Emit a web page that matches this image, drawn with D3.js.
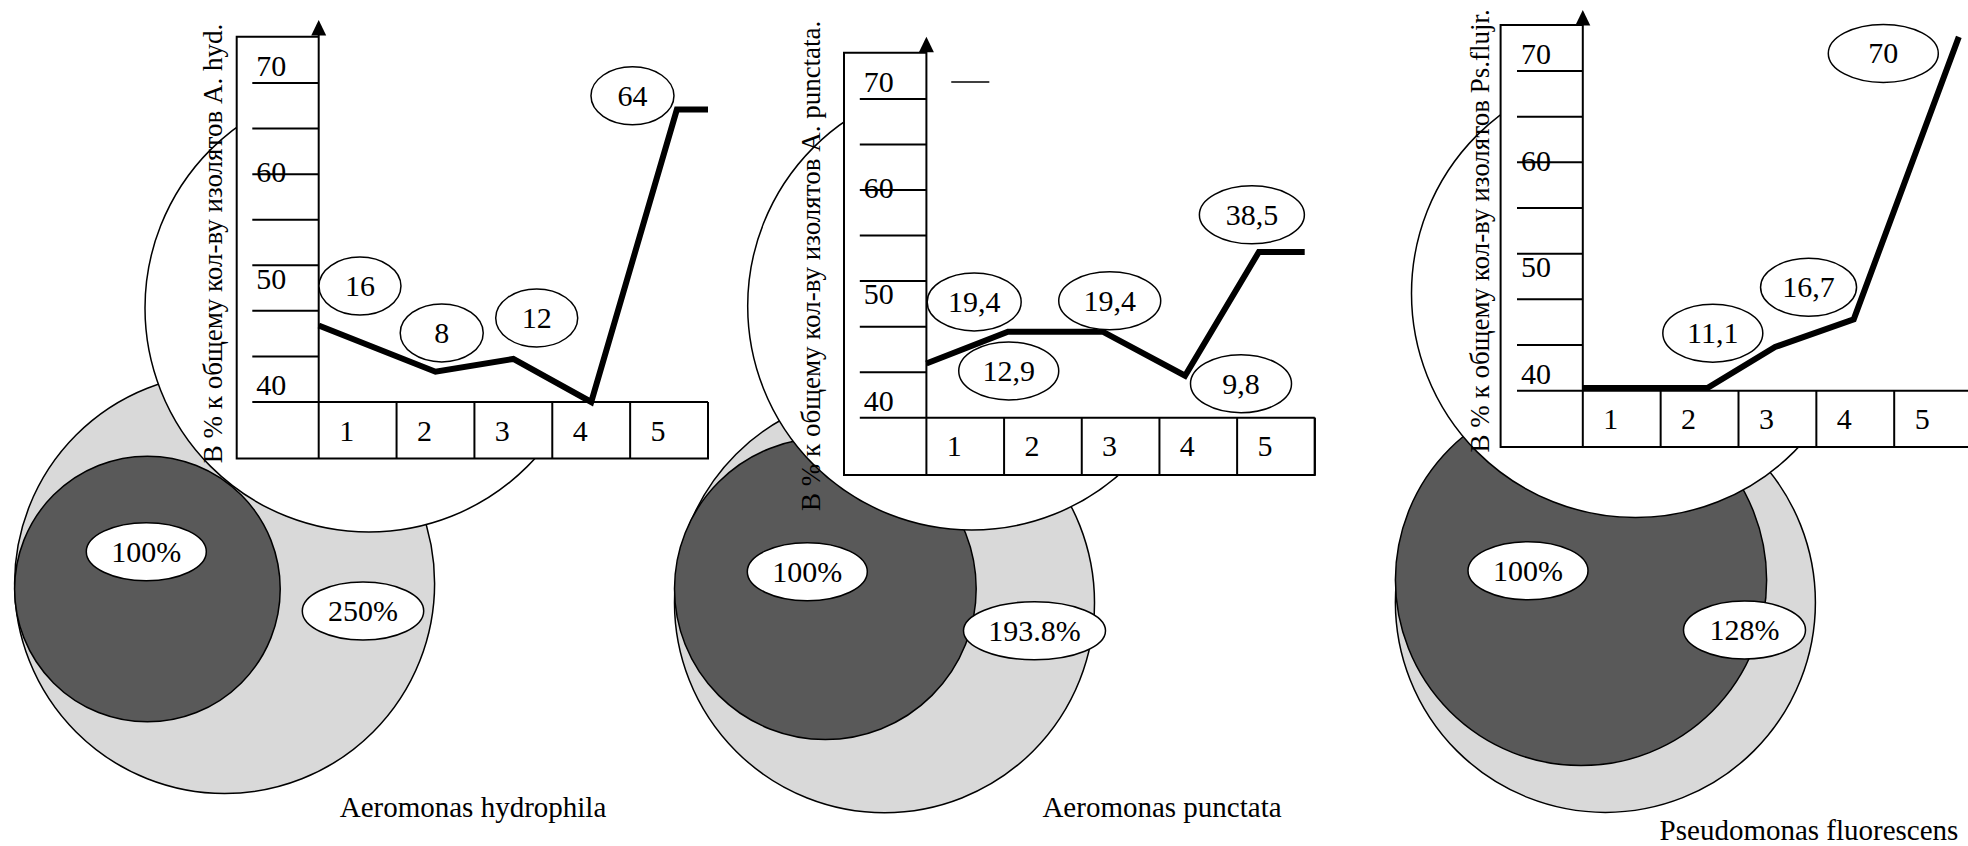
<!DOCTYPE html>
<html><head><meta charset="utf-8">
<script src="https://cdn.jsdelivr.net/npm/d3@7"></script>
<style>
body{margin:0;background:#fff}
svg{display:block}
text{font-family:"Liberation Serif","Times New Roman",serif;fill:#000}
</style>
</head><body>
<svg id="c" width="1968" height="846"></svg>
<script>
// ================= DATA =================
const categories = [1, 2, 3, 4, 5];
const tickLabels = [40, 50, 60, 70];
const titles = ["Aeromonas hydrophila", "Aeromonas punctata", "Pseudomonas fluorescens"];
const axisTitles = [
  "В % к общему кол-ву изолятов А. hyd.",
  "В % к общему кол-ву изолятов А. punctata.",
  "В % к общему кол-ву изолятов Ps.flujr."
];
// line vertices: x in category units, y in axis units
const hydLineX = [0.5, 2, 3, 4, 5.1, 5.5];
const hydLineY = [47.2, 42.85, 44.05, 40, 67.5, 67.5];
const punLineX = [0.5, 1.55, 2.77, 3.83, 4.78, 5.37];
const punLineY = [45.1, 48.1, 48.1, 43.95, 55.6, 55.6];
const fluLineX = [0.5, 2.1, 2.97, 3.98, 5.33];
const fluLineY = [40.25, 40.25, 44.1, 46.7, 73.2];
// value annotations (text, anchor in category / axis units)
const hydLabels = ["16", "8", "12", "64"];
const hydLabelX = [1.03, 2.08, 3.30, 4.53];
const hydLabelY = [50.9, 46.5, 47.9, 68.8];
const punLabels = ["19,4", "12,9", "19,4", "38,5", "9,8"];
const punLabelX = [1.115, 1.56, 2.86, 4.69, 4.55];
const punLabelY = [50.9, 44.4, 51.0, 59.1, 43.2];
const fluLabels = ["11,1", "16,7", "70"];
const fluLabelX = [2.17, 3.40, 4.36];
const fluLabelY = [45.4, 49.7, 71.65];
// isolate counts relative to control (%): [control, experiment]
const hydPct = [100, 250];
const punPct = [100, 193.8];
const fluPct = [100, 128];

// ================= LAYOUT =================
const layouts = [
  { axisX: 318.7, colW: 77.86, baseY: 402, topY: 83, boxLeft: 236.7, boxTop: 36.7, boxBottom: 458.5,
    tickX0: 252.3, arrowTip: 20, yTitle: [222, 243.5], white: [369, 308, 224],
    outer: [224.6, 583.5], R: 210, innerCy: 589,
    pctPos: [[146.3, 551.7], [363, 611]], pctRx: [60, 60.7],
    labelRx: [41, 41.5, 41, 41.5], title: [473, 817] },
  { axisX: 926.4, colW: 77.68, baseY: 417.7, topY: 99, boxLeft: 844, boxTop: 52.7, boxBottom: 475,
    tickX0: 859.8, arrowTip: 36.7, yTitle: [820, 265.8], white: [971.7, 306, 224],
    outer: [884.5, 602.7], R: 210, innerCy: 588.7,
    pctPos: [[807.3, 571.7], [1034.5, 630.7]], pctRx: [60, 71],
    labelRx: [47, 50, 51, 52.5, 50.5], title: [1162, 816.7],
    stray: [0.82, 1.31, 71.6] },
  { axisX: 1582.8, colW: 77.85, baseY: 390.7, topY: 71, boxLeft: 1500.6, boxTop: 25, boxBottom: 447,
    tickX0: 1517, arrowTip: 10, yTitle: [1489, 230.9], white: [1635.5, 293.5, 224],
    outer: [1605.4, 602.4], R: 210, innerCy: 580,
    pctPos: [[1528, 570.7], [1744.5, 630]], pctRx: [60, 61],
    labelRx: [50, 48, 55], title: [1809, 839.5] }
];

const panels = [
  { title: titles[0], axisTitle: axisTitles[0], lx: hydLineX, ly: hydLineY, labels: hydLabels, labX: hydLabelX, labY: hydLabelY, pct: hydPct, L: layouts[0] },
  { title: titles[1], axisTitle: axisTitles[1], lx: punLineX, ly: punLineY, labels: punLabels, labX: punLabelX, labY: punLabelY, pct: punPct, L: layouts[1] },
  { title: titles[2], axisTitle: axisTitles[2], lx: fluLineX, ly: fluLineY, labels: fluLabels, labX: fluLabelX, labY: fluLabelY, pct: fluPct, L: layouts[2] }
];

const FS = 30;
const svg = d3.select("#c");

function ellipseLabel(g, cx, cy, rx, txt) {
  g.append("ellipse").attr("cx", cx).attr("cy", cy).attr("rx", rx).attr("ry", 29)
    .attr("fill", "#fff").attr("stroke", "#000").attr("stroke-width", 1.5);
  g.append("text").attr("x", cx).attr("y", cy).attr("dy", "0.33em")
    .attr("text-anchor", "middle").attr("font-size", FS).text(txt);
}

function drawPanel(p) {
  const L = p.L;
  const g = svg.append("g");
  const x = d3.scaleLinear().domain([0.5, 5.5]).range([L.axisX, L.axisX + 5 * L.colW]);
  const y = d3.scaleLinear().domain([40, 70]).range([L.baseY, L.topY]);
  const r = d3.scaleSqrt().domain([0, d3.max(p.pct)]).range([0, L.R]);

  // circles
  const outerR = r(p.pct[1]), innerR = r(p.pct[0]);
  g.append("circle").attr("cx", L.outer[0]).attr("cy", L.outer[1]).attr("r", outerR)
    .attr("fill", "#d9d9d9").attr("stroke", "#000").attr("stroke-width", 1.5);
  const leftEdge = L.outer[0] - outerR;
  g.append("circle").attr("cx", leftEdge + innerR).attr("cy", L.innerCy).attr("r", innerR)
    .attr("fill", "#595959").attr("stroke", "#000").attr("stroke-width", 1.5);
  g.append("circle").attr("cx", L.white[0]).attr("cy", L.white[1]).attr("r", L.white[2])
    .attr("fill", "#fff").attr("stroke", "#000").attr("stroke-width", 1.5);
  p.pct.forEach((v, i) => ellipseLabel(g, L.pctPos[i][0], L.pctPos[i][1], L.pctRx[i], v + "%"));

  // chart frame
  const right = x(5.5);
  g.append("rect").attr("x", L.boxLeft).attr("y", L.boxTop)
    .attr("width", right - L.boxLeft).attr("height", L.boxBottom - L.boxTop).attr("fill", "#fff");
  g.append("path")
    .attr("d", `M${L.axisX},${L.boxTop}H${L.boxLeft}V${L.boxBottom}H${right}V${y(40)}`)
    .attr("fill", "none").attr("stroke", "#000").attr("stroke-width", 2);

  // minor tick lines (8 evenly spaced)
  const tickVals = d3.range(1, 8).map(i => 40 + i * 30 / 7);
  g.selectAll(null).data(tickVals).join("line")
    .attr("x1", L.tickX0).attr("x2", L.axisX).attr("y1", d => y(d)).attr("y2", d => y(d))
    .attr("stroke", "#000").attr("stroke-width", 2);
  g.append("line").attr("x1", L.tickX0).attr("x2", right).attr("y1", y(40)).attr("y2", y(40))
    .attr("stroke", "#000").attr("stroke-width", 2);
  g.selectAll(null).data(tickLabels).join("text")
    .attr("x", L.tickX0 + 4).attr("y", d => y(d) - 7).attr("font-size", FS).text(d => d);

  // category row
  g.selectAll(null).data(d3.range(6)).join("line")
    .attr("x1", d => x(0.5 + d)).attr("x2", d => x(0.5 + d))
    .attr("y1", y(40)).attr("y2", L.boxBottom).attr("stroke", "#000").attr("stroke-width", 2);
  g.selectAll(null).data(categories).join("text")
    .attr("x", d => x(d) - 11).attr("y", y(40) + 38.5).attr("text-anchor", "middle")
    .attr("font-size", FS).text(d => d);

  // y axis with arrow
  g.append("line").attr("x1", L.axisX).attr("x2", L.axisX).attr("y1", L.arrowTip + 10).attr("y2", y(40))
    .attr("stroke", "#000").attr("stroke-width", 2);
  g.append("path")
    .attr("d", `M${L.axisX},${L.arrowTip}L${L.axisX - 7.5},${L.arrowTip + 15.5}L${L.axisX + 7.5},${L.arrowTip + 15.5}Z`)
    .attr("fill", "#000");

  if (L.stray) {
    g.append("line").attr("x1", x(L.stray[0])).attr("x2", x(L.stray[1]))
      .attr("y1", y(L.stray[2])).attr("y2", y(L.stray[2])).attr("stroke", "#000").attr("stroke-width", 1.5);
  }

  // data line
  const pts = p.lx.map((v, i) => [v, p.ly[i]]);
  g.append("path").datum(pts)
    .attr("d", d3.line().x(d => x(d[0])).y(d => y(d[1])))
    .attr("fill", "none").attr("stroke", "#000").attr("stroke-width", 6)
    .attr("stroke-linejoin", "miter").attr("stroke-linecap", "butt");

  // value annotations
  p.labels.forEach((t, i) => ellipseLabel(g, x(p.labX[i]), y(p.labY[i]), L.labelRx[i], t));

  // axis title (rotated)
  g.append("text")
    .attr("transform", `translate(${L.yTitle[0]},${L.yTitle[1]}) rotate(-90)`)
    .attr("text-anchor", "middle").attr("font-size", 27).text(p.axisTitle);

  // panel title
  g.append("text").attr("x", L.title[0]).attr("y", L.title[1])
    .attr("text-anchor", "middle").attr("font-size", 29).text(p.title);
}

panels.forEach(drawPanel);
</script>
</body></html>
